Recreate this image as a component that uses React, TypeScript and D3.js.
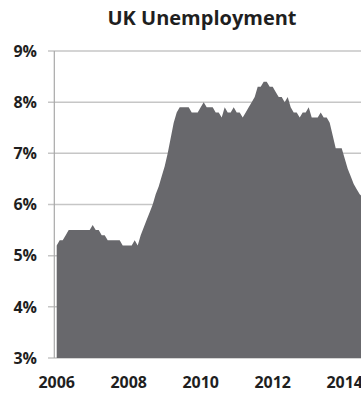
import React from "react";
import * as d3 from "d3";

const title = "UK Unemployment";
const startYear = 2006;
// Monthly unemployment rate (%) from Jan 2006
const rates = [
  5.2, 5.3, 5.3, 5.4, 5.5, 5.5, 5.5, 5.5, 5.5, 5.5, 5.5, 5.5,
  5.6, 5.5, 5.5, 5.4, 5.4, 5.3, 5.3, 5.3, 5.3, 5.3, 5.2, 5.2,
  5.2, 5.2, 5.3, 5.2, 5.4, 5.55, 5.7, 5.85, 6.0, 6.2, 6.35, 6.55,
  6.75, 7.0, 7.3, 7.6, 7.8, 7.9, 7.9, 7.9, 7.9, 7.8, 7.8, 7.8,
  7.9, 8.0, 7.9, 7.9, 7.9, 7.8, 7.8, 7.7, 7.9, 7.8, 7.8, 7.9,
  7.8, 7.8, 7.7, 7.8, 7.9, 8.0, 8.1, 8.3, 8.3, 8.4, 8.4, 8.3,
  8.3, 8.2, 8.1, 8.1, 8.0, 8.1, 7.9, 7.8, 7.8, 7.7, 7.8, 7.8,
  7.9, 7.7, 7.7, 7.7, 7.8, 7.7, 7.7, 7.6, 7.35, 7.1, 7.1, 7.1,
  6.9, 6.7, 6.55, 6.4, 6.3, 6.2, 6.15,
];
const yTicks = [3, 4, 5, 6, 7, 8, 9];
const xTicks = [2006, 2008, 2010, 2012, 2014];

const W = 361;
const H = 394;

export default function App() {
  const x = d3.scaleLinear().domain([2006, 2014]).range([56.7, 344.7]);
  const y = d3.scaleLinear().domain([3, 9]).range([358, 51]);
  const data = rates.map((v, i) => ({ t: startYear + i / 12, v }));
  const area = d3
    .area<{ t: number; v: number }>()
    .x((d) => x(d.t))
    .y0(y(3))
    .y1((d) => y(d.v));
  const axisX = 54.3;
  const font = "'Open Sans', sans-serif";
  return (
    <svg
      width={W}
      height={H}
      style={{ position: "absolute", left: 0, top: 0, background: "#fff" }}
    >
      <defs>
        <clipPath id="clip">
          <rect x={0} y={0} width={W} height={H} />
        </clipPath>
      </defs>
      <text
        x={202}
        y={25}
        textAnchor="middle"
        fontFamily={font}
        fontWeight={700}
        fontSize={20}
        fill="#1f1f1f"
      >
        {title}
      </text>
      {yTicks.map((t) => (
        <g key={t}>
          <line
            x1={48}
            x2={W}
            y1={y(t)}
            y2={y(t)}
            stroke="#c6c6c6"
            strokeWidth={1.5}
          />
          <text
            x={37}
            y={y(t)}
            dy="0.36em"
            textAnchor="end"
            fontFamily={font}
            fontWeight={700}
            fontSize={16}
            fill="#1f1f1f"
          >
            {t}%
          </text>
        </g>
      ))}
      <line
        x1={axisX}
        x2={axisX}
        y1={y(9)}
        y2={y(3)}
        stroke="#a8a8a8"
        strokeWidth={1.2}
      />
      <path d={area(data) || ""} fill="#68686c" clipPath="url(#clip)" />
      {xTicks.map((t) => (
        <text
          key={t}
          x={x(t)}
          y={388}
          textAnchor="middle"
          fontFamily={font}
          fontWeight={700}
          fontSize={16}
          fill="#1f1f1f"
        >
          {t}
        </text>
      ))}
    </svg>
  );
}
